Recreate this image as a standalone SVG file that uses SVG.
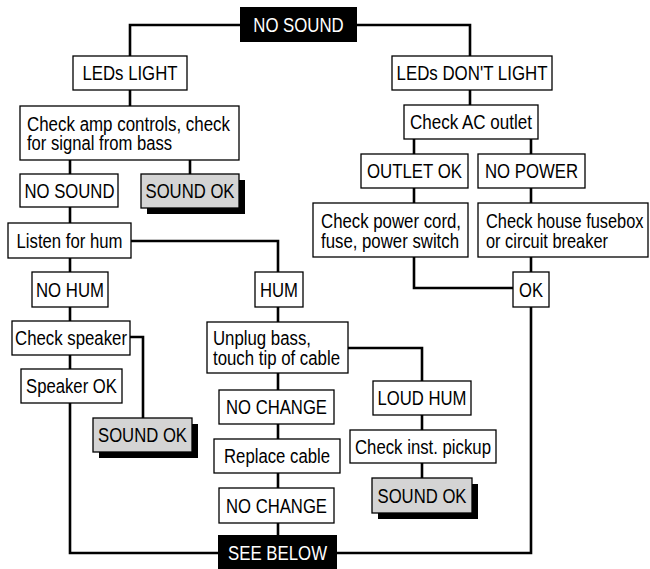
<svg xmlns="http://www.w3.org/2000/svg" width="650" height="569" viewBox="0 0 650 569">
<style>
rect.b{fill:#fff;stroke:#000;stroke-width:1.3}
rect.k{fill:#000}
rect.g{fill:#d4d4d4;stroke:#000;stroke-width:1.3}
rect.s{fill:#000}
text{font-family:"Liberation Sans",Arial,sans-serif;font-size:20px;fill:#000}
text.c{text-anchor:middle}
text.w{fill:#fff}
#connectors path{fill:none;stroke:#000;stroke-width:2.6}
</style>
<rect width="650" height="569" fill="#fff"/>
<g id="connectors">
<path d="M240,25 H130 V56"/>
<path d="M357,25 H470 V56"/>
<path d="M130,90 V106"/>
<path d="M70,160 V174"/>
<path d="M190,160 V174"/>
<path d="M70,207 V223"/>
<path d="M70,258 V272"/>
<path d="M70,307 V321"/>
<path d="M70,355 V369"/>
<path d="M70,403 V553 H218"/>
<path d="M130,337 H143 V418"/>
<path d="M131,241 H278 V272"/>
<path d="M278,307 V322"/>
<path d="M278,373 V390"/>
<path d="M278,424 V439"/>
<path d="M278,473 V488"/>
<path d="M278,523 V535"/>
<path d="M348,348 H422 V381"/>
<path d="M422,415 V430"/>
<path d="M422,463 V478"/>
<path d="M470,90 V105"/>
<path d="M414,139 V154"/>
<path d="M531,139 V154"/>
<path d="M414,188 V203"/>
<path d="M531,188 V203"/>
<path d="M414,257 V288 H513"/>
<path d="M531,257 V272"/>
<path d="M531,307 V553 H337"/>
</g>
<g id="n-nosound-top"><rect class="k" x="240" y="7" width="117" height="35"/><text class="c w" x="298.5" y="31.8" textLength="90.5" lengthAdjust="spacingAndGlyphs">NO SOUND</text></g>
<g id="n-leds-light"><rect class="b" x="73" y="56" width="114" height="34"/><text class="c" x="130" y="80.3" textLength="95" lengthAdjust="spacingAndGlyphs">LEDs LIGHT</text></g>
<g id="n-leds-dont"><rect class="b" x="392" y="56" width="160" height="34"/><text class="c" x="472" y="80.3" textLength="151" lengthAdjust="spacingAndGlyphs">LEDs DON'T LIGHT</text></g>
<g id="n-check-amp"><rect class="b" x="20" y="106" width="219" height="54"/><text x="27" y="130.5" textLength="203" lengthAdjust="spacingAndGlyphs">Check amp controls, check</text><text x="27" y="150" textLength="145" lengthAdjust="spacingAndGlyphs">for signal from bass</text></g>
<g id="n-nosound2"><rect class="b" x="20" y="174" width="98" height="33"/><text class="c" x="69.5" y="197.8" textLength="90" lengthAdjust="spacingAndGlyphs">NO SOUND</text></g>
<g id="n-soundok1"><rect class="s" x="147" y="180" width="98" height="34"/><rect class="g" x="141" y="174" width="98" height="34"/><text class="c" x="190" y="198.3" textLength="89" lengthAdjust="spacingAndGlyphs">SOUND OK</text></g>
<g id="n-listen"><rect class="b" x="8" y="223" width="123" height="35"/><text class="c" x="69.5" y="247.8" textLength="106" lengthAdjust="spacingAndGlyphs">Listen for hum</text></g>
<g id="n-nohum"><rect class="b" x="32" y="272" width="76" height="35"/><text class="c" x="70" y="296.8" textLength="68" lengthAdjust="spacingAndGlyphs">NO HUM</text></g>
<g id="n-hum"><rect class="b" x="255" y="272" width="48" height="35"/><text class="c" x="279" y="296.8" textLength="38" lengthAdjust="spacingAndGlyphs">HUM</text></g>
<g id="n-check-speaker"><rect class="b" x="12" y="321" width="118" height="34"/><text class="c" x="71" y="345.3" textLength="112" lengthAdjust="spacingAndGlyphs">Check speaker</text></g>
<g id="n-speaker-ok"><rect class="b" x="21" y="369" width="101" height="34"/><text class="c" x="71.5" y="393.3" textLength="91" lengthAdjust="spacingAndGlyphs">Speaker OK</text></g>
<g id="n-soundok2"><rect class="s" x="99" y="424" width="99" height="34"/><rect class="g" x="93" y="418" width="99" height="34"/><text class="c" x="142.5" y="442.3" textLength="89" lengthAdjust="spacingAndGlyphs">SOUND OK</text></g>
<g id="n-unplug"><rect class="b" x="207" y="322" width="141" height="51"/><text x="213" y="345" textLength="98" lengthAdjust="spacingAndGlyphs">Unplug bass,</text><text x="213" y="365" textLength="127" lengthAdjust="spacingAndGlyphs">touch tip of cable</text></g>
<g id="n-nochange1"><rect class="b" x="219" y="390" width="115" height="34"/><text class="c" x="276.5" y="414.3" textLength="101" lengthAdjust="spacingAndGlyphs">NO CHANGE</text></g>
<g id="n-replace"><rect class="b" x="214" y="439" width="126" height="34"/><text class="c" x="277" y="463.3" textLength="106" lengthAdjust="spacingAndGlyphs">Replace cable</text></g>
<g id="n-nochange2"><rect class="b" x="219" y="488" width="115" height="35"/><text class="c" x="276.5" y="512.8" textLength="101" lengthAdjust="spacingAndGlyphs">NO CHANGE</text></g>
<g id="n-seebelow"><rect class="k" x="218" y="535" width="119" height="36"/><text class="c w" x="277.5" y="560.3" textLength="99" lengthAdjust="spacingAndGlyphs">SEE BELOW</text></g>
<g id="n-loudhum"><rect class="b" x="373" y="381" width="98" height="34"/><text class="c" x="422" y="405.3" textLength="89" lengthAdjust="spacingAndGlyphs">LOUD HUM</text></g>
<g id="n-check-inst"><rect class="b" x="350" y="430" width="146" height="33"/><text class="c" x="423" y="453.8" textLength="136" lengthAdjust="spacingAndGlyphs">Check inst. pickup</text></g>
<g id="n-soundok3"><rect class="s" x="378" y="484" width="100" height="35"/><rect class="g" x="372" y="478" width="100" height="35"/><text class="c" x="422" y="502.8" textLength="89" lengthAdjust="spacingAndGlyphs">SOUND OK</text></g>
<g id="n-check-ac"><rect class="b" x="404" y="105" width="134" height="34"/><text class="c" x="471" y="129.3" textLength="122" lengthAdjust="spacingAndGlyphs">Check AC outlet</text></g>
<g id="n-outlet-ok"><rect class="b" x="361" y="154" width="107" height="34"/><text class="c" x="414.5" y="178.3" textLength="95" lengthAdjust="spacingAndGlyphs">OUTLET OK</text></g>
<g id="n-no-power"><rect class="b" x="478" y="154" width="107" height="34"/><text class="c" x="531.5" y="178.3" textLength="93" lengthAdjust="spacingAndGlyphs">NO POWER</text></g>
<g id="n-check-power"><rect class="b" x="313" y="203" width="155" height="54"/><text x="321" y="227.5" textLength="140" lengthAdjust="spacingAndGlyphs">Check power cord,</text><text x="321" y="247.5" textLength="138" lengthAdjust="spacingAndGlyphs">fuse, power switch</text></g>
<g id="n-fusebox"><rect class="b" x="478" y="203" width="170" height="54"/><text transform="translate(486,227.5) scale(0.82,1)">Check house fusebox</text><text transform="translate(486,247.5) scale(0.82,1)">or circuit breaker</text></g>
<g id="n-ok"><rect class="b" x="513" y="272" width="36" height="35"/><text class="c" x="531" y="296.8" textLength="24" lengthAdjust="spacingAndGlyphs">OK</text></g>
</svg>
